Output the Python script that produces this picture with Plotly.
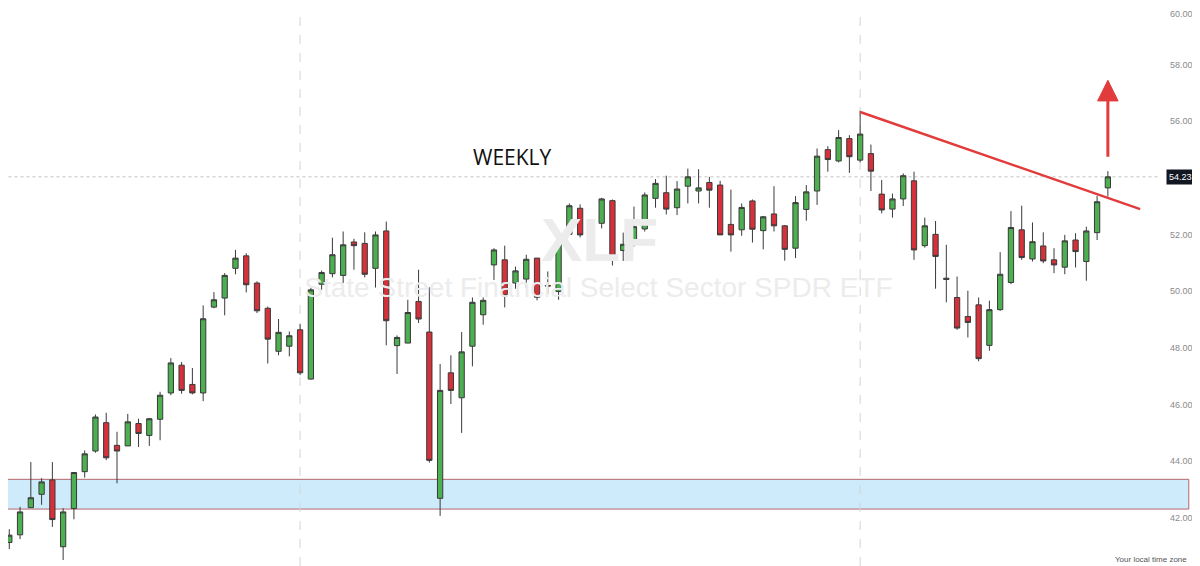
import plotly.graph_objects as go

# ---------- DATA (weekly XLF candles) ----------
opens = [41.13, 41.40, 42.36, 42.83, 43.34, 40.98, 42.33, 43.63, 44.36, 45.36,
         44.56, 44.54, 45.33, 44.91, 45.48, 46.41, 47.39, 46.71, 46.41, 49.44,
         49.76, 50.81, 51.25, 50.29, 49.40, 47.88, 48.06, 48.64, 46.90, 50.25,
         50.62, 50.56, 51.74, 51.69, 50.81, 52.13, 48.08, 48.17, 49.64, 48.56,
         42.69, 47.12, 46.24, 48.06, 49.17, 50.93, 51.11, 50.29, 50.43, 51.17,
         50.18, 49.99, 52.01, 52.93, 51.96, 52.40, 53.20, 51.44, 51.78, 52.20,
         53.28, 53.48, 52.95, 53.71, 53.54, 53.84, 53.75, 52.36, 52.17, 53.19,
         52.14, 52.73, 52.31, 51.52, 52.89, 53.54, 55.00, 54.60, 55.39, 54.63,
         54.86, 53.43, 52.90, 53.26, 53.90, 51.61, 52.01, 50.46, 49.78, 49.11,
         49.52, 48.09, 49.35, 50.31, 52.17, 51.14, 51.60, 51.11, 50.85, 51.81,
         51.05, 52.07, 53.65]
highs = [41.60, 42.39, 43.97, 43.40, 43.97, 42.34, 43.60, 44.38, 45.65, 45.71,
         45.04, 45.67, 45.50, 45.53, 46.45, 47.64, 47.50, 47.29, 49.50, 49.97,
         50.64, 51.46, 51.34, 50.35, 49.46, 49.02, 48.58, 48.84, 50.13, 50.73,
         51.89, 52.11, 51.85, 52.08, 52.11, 52.46, 48.44, 49.70, 50.76, 50.14,
         47.43, 47.74, 48.56, 49.78, 49.78, 51.52, 51.61, 50.87, 51.29, 51.17,
         50.70, 52.05, 53.10, 53.07, 52.46, 53.30, 53.24, 52.07, 52.99, 53.49,
         53.96, 54.08, 53.89, 54.33, 54.31, 54.04, 53.90, 53.59, 53.10, 53.24,
         52.66, 53.71, 52.34, 53.36, 53.75, 55.04, 55.12, 55.69, 55.51, 56.37,
         55.18, 53.93, 53.45, 54.16, 54.22, 52.60, 52.48, 51.64, 50.52, 50.02,
         49.78, 49.67, 51.38, 52.83, 53.02, 52.43, 52.08, 51.52, 51.99, 52.05,
         52.28, 53.37, 54.24]
lows = [40.90, 41.25, 42.36, 42.46, 41.68, 40.51, 41.95, 43.42, 44.30, 44.04,
        43.22, 44.54, 44.50, 44.54, 44.74, 46.33, 46.38, 46.36, 46.12, 49.40,
        49.15, 50.60, 49.96, 49.23, 47.45, 47.74, 47.70, 47.04, 46.88, 50.05,
        50.49, 50.29, 50.76, 50.49, 50.13, 48.09, 47.08, 48.17, 48.88, 43.95,
        42.07, 46.02, 45.00, 47.35, 48.82, 50.40, 49.43, 50.09, 50.13, 49.68,
        49.91, 49.70, 51.99, 51.90, 51.17, 52.22, 50.91, 51.07, 51.58, 52.11,
        52.95, 52.71, 52.69, 53.10, 53.10, 52.95, 51.99, 51.40, 51.96, 51.72,
        51.48, 52.11, 51.08, 51.17, 52.49, 53.05, 54.22, 54.55, 54.18, 54.55,
        53.54, 52.75, 52.60, 53.01, 51.11, 51.54, 50.09, 49.61, 48.64, 48.37,
        47.53, 47.90, 49.31, 50.25, 51.11, 51.05, 50.99, 50.64, 50.60, 50.84,
        50.37, 51.81, 53.34]
closes = [41.39, 42.21, 42.71, 43.27, 41.94, 42.21, 43.60, 44.26, 45.56, 44.12,
          44.36, 45.39, 44.98, 45.50, 46.33, 47.47, 46.50, 46.41, 49.03, 49.70,
          50.56, 51.17, 50.23, 49.31, 48.31, 48.55, 48.43, 47.12, 50.05, 50.66,
          51.29, 51.64, 51.61, 50.60, 51.99, 48.96, 48.37, 49.25, 49.02, 44.03,
          46.50, 46.50, 47.86, 49.61, 49.68, 51.46, 49.84, 50.72, 51.13, 49.79,
          50.20, 51.75, 53.02, 51.99, 52.36, 53.26, 51.25, 51.66, 52.28, 53.40,
          53.81, 52.90, 53.61, 54.04, 53.65, 53.57, 51.99, 51.99, 52.96, 52.19,
          52.63, 52.31, 51.48, 53.13, 53.51, 54.77, 54.65, 55.43, 54.75, 55.55,
          54.24, 52.87, 53.26, 54.08, 51.46, 52.31, 51.23, 50.42, 48.70, 48.90,
          47.62, 49.35, 50.60, 52.25, 51.19, 51.75, 51.07, 50.93, 51.78, 51.40,
          52.13, 53.16, 54.04]
weeks = list(range(len(closes)))

last_price_text = "54.23"
support_zone = [42.31, 43.36]          # blue band
trend_start = (79, 56.33)              # week index, price
trend_end = (105, 52.90)
arrow_week = 102
arrow_prices = [54.75, 56.72, 57.45]   # shaft bottom, head base, tip
year_breaks = [27, 79]
tick_vals = [42, 44, 46, 48, 50, 52, 56, 58]   # 54 is hidden under the price tag
top_tick = 60                                   # sits on the top edge, drawn as a note

fig = go.Figure()

# watermark behind the candles
fig.add_trace(go.Scatter(
    x=[54.8], y=[51.6], mode="text", text=["XLF"],
    textfont=dict(family="Liberation Sans", size=62, color="#ececec", weight="bold"),
    hoverinfo="skip", showlegend=False,
))
fig.add_trace(go.Scatter(
    x=[54.7], y=[50.06], mode="text",
    text=["State Street Financial Select Sector SPDR ETF"],
    textfont=dict(family="Liberation Sans", size=28, color="#ececec"),
    hoverinfo="skip", showlegend=False,
))

fig.add_trace(go.Candlestick(
    x=weeks, open=opens, high=highs, low=lows, close=closes,
    increasing=dict(fillcolor="#4caf50", line=dict(color="#3a3a3a", width=1)),
    decreasing=dict(fillcolor="#d6303a", line=dict(color="#3a3a3a", width=1)),
    whiskerwidth=0, showlegend=False,
))

# support zone
fig.add_shape(type="rect", xref="paper", x0=-0.003, x1=1.025,
              y0=support_zone[0], y1=support_zone[1],
              fillcolor="#cdebfb", line=dict(color="#b5686d", width=1), layer="below")

for wk in year_breaks:
    fig.add_shape(type="line", x0=wk, x1=wk, yref="paper", y0=0, y1=1,
                  line=dict(color="#d4d4d4", width=1, dash="dash"), layer="below")

# last price line
fig.add_shape(type="line", xref="paper", x0=-0.01, x1=1, y0=closes[-1], y1=closes[-1],
              line=dict(color="#c0c0c0", width=1, dash="dot"), layer="below")

# trend line
fig.add_shape(type="line", x0=trend_start[0], y0=trend_start[1],
              x1=trend_end[0], y1=trend_end[1],
              line=dict(color="#e23b3b", width=2.5))

# up arrow
fig.add_shape(type="line", x0=arrow_week, x1=arrow_week,
              y0=arrow_prices[0], y1=arrow_prices[1],
              line=dict(color="#e23b3b", width=3))
fig.add_shape(type="path", fillcolor="#e23b3b", line=dict(color="#e23b3b", width=1),
              path=f"M {arrow_week - 0.95},{arrow_prices[1]} L {arrow_week + 0.95},{arrow_prices[1]} "
                   f"L {arrow_week},{arrow_prices[2]} Z")

fig.add_annotation(text="WEEKLY", xref="paper", yref="paper", x=0.4375, y=0.733,
                   xanchor="center", yanchor="middle", showarrow=False,
                   font=dict(family="Open Sans", size=21, color="#111111"))

fig.add_annotation(text=last_price_text, xref="paper", x=1.0174, y=closes[-1],
                   xanchor="center", yanchor="middle", showarrow=False,
                   bgcolor="#131722", borderpad=2,
                   font=dict(family="Liberation Sans", size=9, color="#ffffff"))

fig.add_annotation(text=f"{top_tick:.2f}", xref="paper", yref="paper",
                   x=1.0078, y=1.0, xanchor="left", yanchor="top", showarrow=False,
                   borderpad=0, font=dict(family="Liberation Sans", size=9, color="#8a8a8a"))

fig.add_annotation(text="Your local time zone", xref="paper", yref="paper",
                   x=1.025, y=0.0, xanchor="right", yanchor="bottom", showarrow=False,
                   font=dict(family="Liberation Sans", size=8, color="#555555"))

# the page body has an 8px margin, so the figure is a bit smaller than the window
fig.update_layout(
    width=1192, height=558,
    margin=dict(l=0, r=40, t=0, b=0),
    paper_bgcolor="white", plot_bgcolor="white",
    xaxis=dict(range=[-0.12, 106.84], visible=False, rangeslider=dict(visible=False)),
    yaxis=dict(range=[40.30, 60.001], side="right", showgrid=False, zeroline=False,
               tickvals=tick_vals, ticktext=[f"{v:.2f}" for v in tick_vals],
               tickfont=dict(family="Liberation Sans", size=9, color="#8a8a8a"),
               ticklabelstandoff=9),
    showlegend=False,
)

fig.write_html("out.html")
